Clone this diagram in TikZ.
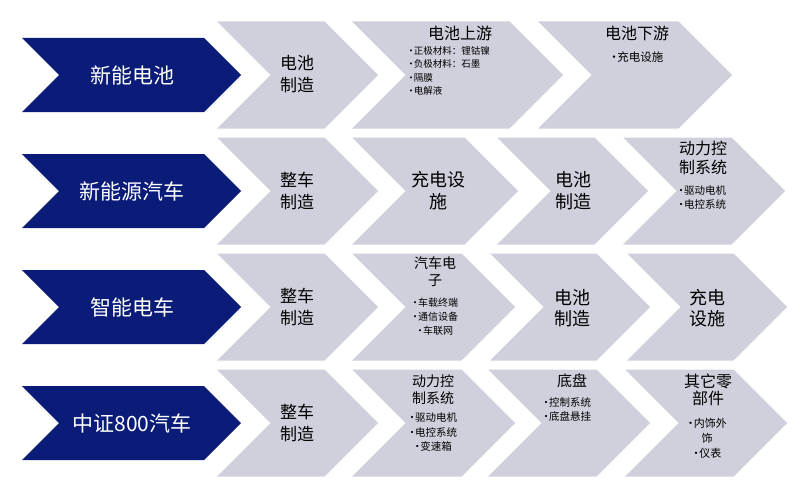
\documentclass[tikz,border=0pt]{standalone}
\usepackage{fontspec}
\newfontfamily\cjk{Noto Sans CJK SC}
\definecolor{azul}{HTML}{0B1B78}
\definecolor{gris}{HTML}{D0D0DC}
% flecha: izquierda, derecha, centro y, media altura, color
\newcommand{\flecha}[5]{%
  \fill[#5] (#1,#3-#4) -- (#2-#4,#3-#4) -- (#2,#3) -- (#2-#4,#3+#4) -- (#1,#3+#4) -- (#1+#4,#3) -- cycle;}
% vineta
\newcommand{\pto}{\makebox[0.6em]{•}}
\tikzset{
  rotulo/.style={text=white, font=\cjk\fontsize{21}{24}\selectfont},
  titulo/.style={align=center, inner sep=0pt, font=\cjk\fontsize{17}{22}\selectfont},
  lista/.style={align=left, inner sep=0pt, font=\cjk\fontsize{10}{14}\selectfont},
}

\begin{document}
\begin{tikzpicture}[x=1pt,y=-1pt]
        \useasboundingbox (0,0) rectangle (800,495);
        % Flechas azules
        \foreach \y/\texto/\nombre in {75/新能电池/a, 191/新能源汽车/b, 307/智能电车/c, 423/中证800汽车/d}{
            \flecha{22}{241}{\y}{37}{azul}
            \node[rotulo] (b\nombre) at (132,\y) {\texto};
        }
        % Fila 1
        \flecha{217}{378}{75}{53.5}{gris}
        \flecha{352}{563}{75}{53.5}{gris}
        \flecha{538}{732}{75}{53.5}{gris}
        \node[titulo] (a1) at (297,74) {电池\\制造};
        \node[titulo, font=\cjk\fontsize{16}{20}\selectfont] (a2) at (460,33) {电池上游};
        \node[lista, anchor=north west, font=\cjk\fontsize{9.5}{13.3}\selectfont] (a2l) at (408,46.5)
            {\pto 正极材料：锂钴镍\\\pto 负极材料：石墨\\\pto 隔膜\\\pto 电解液};
        \node[titulo, font=\cjk\fontsize{16}{20}\selectfont] (a3) at (637,33) {电池下游};
        \node[lista, font=\cjk\fontsize{11.5}{14}\selectfont] (a3l) at (637,57) {\pto 充电设施};
        % Fila 2
        \flecha{217}{378}{191}{53.5}{gris}
        \flecha{352}{518}{191}{53.5}{gris}
        \flecha{497}{648}{191}{53.5}{gris}
        \flecha{623}{785}{191}{53.5}{gris}
        \node[titulo, font=\cjk\fontsize{18}{22}\selectfont] (b2) at (438,191) {充电设\\施};
        \node[titulo, font=\cjk\fontsize{18}{22}\selectfont] (b3) at (573,191) {电池\\制造};
        \node[titulo, font=\cjk\fontsize{16}{19}\selectfont] (b4) at (703,157.5) {动力控\\制系统};
        \node[lista, font=\cjk\fontsize{10.5}{14}\selectfont] (b4l) at (702,197) {\pto 驱动电机\\\pto 电控系统};
        % Fila 3
        \flecha{217}{378}{307}{53.5}{gris}
        \flecha{352}{515}{307}{53.5}{gris}
        \flecha{490}{650}{307}{53.5}{gris}
        \flecha{627}{787}{307}{53.5}{gris}
        \node[titulo, font=\cjk\fontsize{14}{17}\selectfont] (c2) at (435,271.5) {汽车电\\子};
        \node[lista, align=center] (c2l) at (435,317) {\pto 车载终端\\\pto 通信设备\\\pto 车联网};
        \node[titulo, font=\cjk\fontsize{18}{21}\selectfont] (c3) at (572,308) {电池\\制造};
        \node[titulo, font=\cjk\fontsize{18}{21}\selectfont] (c4) at (707,308) {充电\\设施};
        % Fila 4
        \flecha{217}{378}{423}{53.5}{gris}
        \flecha{352}{515}{423}{53.5}{gris}
        \flecha{488}{650}{423}{53.5}{gris}
        \flecha{625}{787}{423}{53.5}{gris}
        \node[titulo, font=\cjk\fontsize{14}{17}\selectfont] (d2) at (433,389.5) {动力控\\制系统};
        \node[lista, align=center, font=\cjk\fontsize{10.5}{14.5}\selectfont] (d2l) at (433,432.5)
            {\pto 驱动电机\\\pto 电控系统\\\pto 变速箱};
        \node[titulo, font=\cjk\fontsize{15}{17}\selectfont] (d3) at (572,381) {底盘};
        \node[lista, font=\cjk\fontsize{10.5}{14}\selectfont] (d3l) at (567,410) {\pto 控制系统\\\pto 底盘悬挂};
        \node[titulo, font=\cjk\fontsize{16}{17}\selectfont] (d4) at (708,389.5) {其它零\\部件};
        \node[lista, align=center, font=\cjk\fontsize{11}{15}\selectfont] (d4l) at (707,438) {\pto 内饰外\\饰\\\pto 仪表};
        % Columna 1
        \foreach \y/\nombre in {191/b, 307/c, 423/d}{
            \node[titulo] (\nombre1) at (297,\y) {整车\\制造};
        }
\end{tikzpicture}
\end{document}
